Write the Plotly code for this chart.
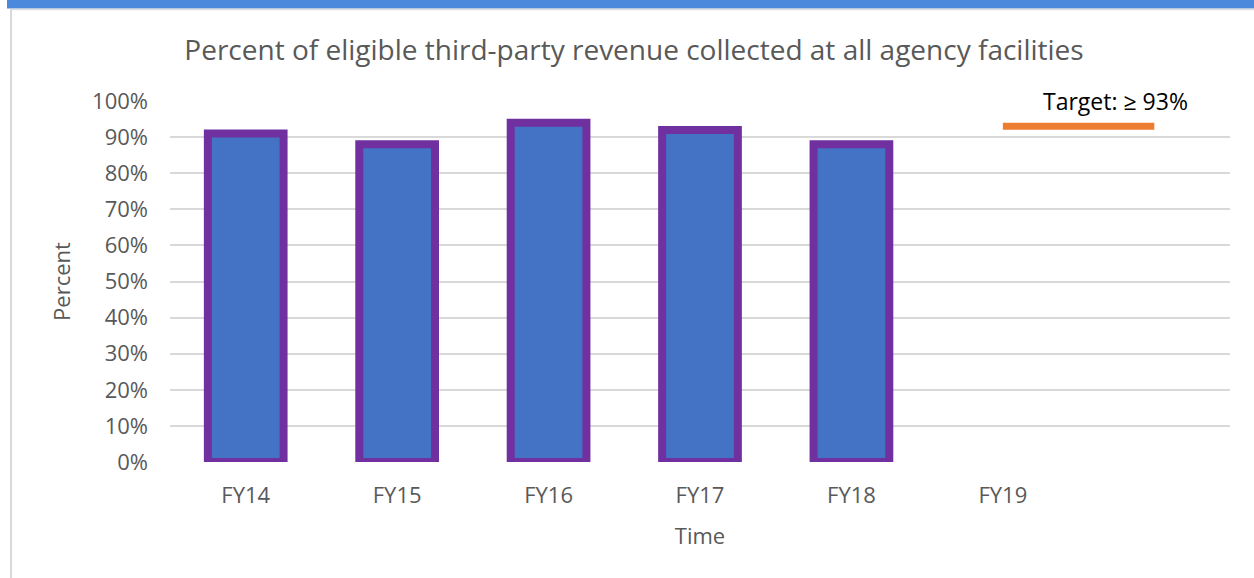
import plotly.graph_objects as go

# Fiscal years shown on the category axis (the last slot is left unlabeled)
years = ["FY14", "FY15", "FY16", "FY17", "FY18", "FY19"]
# Share of eligible third-party revenue collected, per fiscal year
collected = [0.91, 0.88, 0.94, 0.92, 0.88]
# Performance target
target = 0.93
target_span = [5, 6]
y_ticks = [i / 10 for i in range(11)]
y_tick_text = [f"{int(round(v * 100))}%" for v in y_ticks]

FONT = "Open Sans, Liberation Sans, sans-serif"
GREY_TEXT = "#595959"

fig = go.Figure()

fig.add_trace(go.Bar(
    x=list(range(len(collected))),
    y=collected,
    width=0.5,
    marker=dict(color="#4472C4", line=dict(color="#7030A0", width=8)),
    hoverinfo="skip",
    showlegend=False,
))

fig.add_trace(go.Scatter(
    x=target_span,
    y=[target, target],
    mode="lines",
    line=dict(color="#ED7D31", width=7),
    hoverinfo="skip",
    showlegend=False,
))

fig.add_annotation(
    x=5.745, y=1.0, xref="x", yref="y",
    text=f"Target: ≥ {int(round(target * 100))}%",
    showarrow=False,
    font=dict(family=FONT, size=23, color="#000000"),
)

# Page frame: blue band on top, thin grey rules along top and left edges
plot_h = 361.0
plot_w = 1060.0
left_px, top_px = 170.0, 101.0


def px_x(x):
    return (x - left_px) / plot_w


def px_y(y):
    return (top_px + plot_h - y) / plot_h


fig.add_shape(type="rect", xref="paper", yref="paper",
              x0=px_x(7), x1=px_x(1260), y0=px_y(8.5), y1=px_y(-5),
              fillcolor="#4A89DC", line=dict(width=0), layer="above")
fig.add_shape(type="line", xref="paper", yref="paper",
              x0=px_x(11), x1=px_x(1260), y0=px_y(9.5), y1=px_y(9.5),
              line=dict(color="#DDDDDD", width=1.5))
fig.add_shape(type="line", xref="paper", yref="paper",
              x0=px_x(11), x1=px_x(11), y0=px_y(9), y1=px_y(585),
              line=dict(color="#D9D9D9", width=2))

fig.update_layout(
    width=1254,
    height=578,
    margin=dict(l=170, r=24, t=101, b=116),
    paper_bgcolor="white",
    plot_bgcolor="white",
    title=dict(
        text="Percent of eligible third-party revenue collected at all agency facilities",
        font=dict(family=FONT, size=28, color=GREY_TEXT),
        x=634 / 1254, xanchor="center", y=1 - 50 / 578, yanchor="middle",
    ),
    xaxis=dict(
        range=[-0.5, 6.5],
        tickmode="array",
        tickvals=list(range(len(years))),
        ticktext=years,
        showgrid=False,
        zeroline=False,
        showline=False,
        ticks="",
        ticklabelstandoff=18,
        tickfont=dict(family=FONT, size=22, color=GREY_TEXT),
        title=dict(text="Time", font=dict(family=FONT, size=22, color=GREY_TEXT), standoff=20),
        fixedrange=True,
    ),
    yaxis=dict(
        range=[0, 1],
        tickmode="array",
        tickvals=y_ticks,
        ticktext=y_tick_text,
        showgrid=True,
        gridcolor="#D9D9D9",
        gridwidth=1.5,
        zeroline=False,
        showline=False,
        ticks="",
        ticklabelstandoff=21,
        tickfont=dict(family=FONT, size=22, color=GREY_TEXT),
        title=dict(text="Percent", font=dict(family=FONT, size=22, color=GREY_TEXT), standoff=15),
        fixedrange=True,
    ),
    font=dict(family=FONT),
)

fig.write_html("out.html", config={"displayModeBar": False})
